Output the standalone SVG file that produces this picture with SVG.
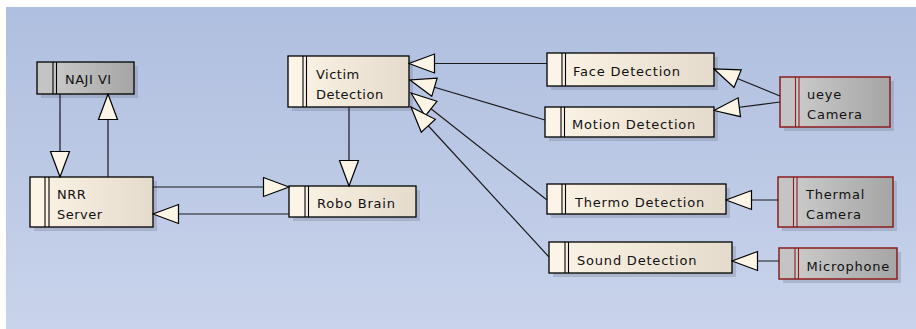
<svg xmlns="http://www.w3.org/2000/svg" width="916" height="329" viewBox="0 0 916 329">
<defs>
<linearGradient id="bg" x1="0" y1="0" x2="0" y2="1">
<stop offset="0" stop-color="#afbfdf"/>
<stop offset="1" stop-color="#c9d3eb"/>
</linearGradient>
<linearGradient id="gc" x1="0" y1="0" x2="1" y2="0">
<stop offset="0" stop-color="#fcf4e6"/>
<stop offset="1" stop-color="#e4dbcc"/>
</linearGradient>
<linearGradient id="gg" x1="0" y1="0" x2="1" y2="0">
<stop offset="0" stop-color="#d0d0d0"/>
<stop offset="1" stop-color="#a5a5a5"/>
</linearGradient>
<marker id="tri" viewBox="0 0 28 22" refX="27" refY="11" markerWidth="28" markerHeight="22" markerUnits="userSpaceOnUse" orient="auto">
<path d="M27,11 L1.5,1.5 L1.5,20.5 Z" fill="#fcf4e4" stroke="#000" stroke-width="1.2" stroke-linejoin="miter"/>
</marker>
</defs>
<style>
.sh{fill:#7c8599;opacity:.35}
.cr{fill:url(#gc)}
.gr{fill:url(#gg)}
.lcc{fill:#fcf4e6}
.lcg{fill:#c4c4c4}
.bd{fill:none;stroke:#000;stroke-width:1.3}
.rd{fill:none;stroke:#8c1c1c;stroke-width:1.5}
.dl{stroke:#000;stroke-width:1.1}
.dr{stroke:#8c1c1c;stroke-width:1.1}
text{font-family:"DejaVu Sans","Liberation Sans",sans-serif;font-size:13px;fill:#111;letter-spacing:0.8px}
.t{letter-spacing:0.5px}
.cn{fill:none;stroke:#1a1a1a;stroke-width:1.2;marker-end:url(#tri)}
</style>
<rect x="0" y="0" width="916" height="329" fill="#ffffff"/>
<rect x="6" y="7" width="910" height="322" fill="url(#bg)"/>

<g id="naji-vi">
<rect class="sh" x="41" y="66" width="97" height="32"/>
<rect class="gr" x="37" y="62" width="97" height="32"/>
<rect class="lcg" x="37" y="62" width="16" height="32"/>
<line class="dl" x1="53" y1="62" x2="53" y2="94"/>
<line class="dl" x1="56.5" y1="62" x2="56.5" y2="94"/>
<rect class="bd" x="37" y="62" width="97" height="32"/>
<text class="t" x="65" y="84">NAJI VI</text>
</g>

<g id="nrr-server">
<rect class="sh" x="34" y="181" width="123" height="50"/>
<rect class="cr" x="30" y="177" width="123" height="50"/>
<rect class="lcc" x="30" y="177" width="15" height="50"/>
<line class="dl" x1="45" y1="177" x2="45" y2="227"/>
<line class="dl" x1="49" y1="177" x2="49" y2="227"/>
<rect class="bd" x="30" y="177" width="123" height="50"/>
<text class="t" x="57" y="199">NRR</text>
<text class="t" x="57" y="218.5">Server</text>
</g>

<g id="victim-detection">
<rect class="sh" x="292" y="60" width="121" height="51"/>
<rect class="cr" x="288" y="56" width="121" height="51"/>
<rect class="lcc" x="288" y="56" width="15" height="51"/>
<line class="dl" x1="303" y1="56" x2="303" y2="107"/>
<line class="dl" x1="306.5" y1="56" x2="306.5" y2="107"/>
<rect class="bd" x="288" y="56" width="121" height="51"/>
<text class="t" x="316" y="79">Victim</text>
<text class="t" x="316" y="99">Detection</text>
</g>

<g id="robo-brain">
<rect class="sh" x="293" y="190" width="127" height="31"/>
<rect class="cr" x="289" y="186" width="127" height="31"/>
<rect class="lcc" x="289" y="186" width="16" height="31"/>
<line class="dl" x1="305" y1="186" x2="305" y2="217"/>
<line class="dl" x1="308.5" y1="186" x2="308.5" y2="217"/>
<rect class="bd" x="289" y="186" width="127" height="31"/>
<text x="317" y="208">Robo Brain</text>
</g>

<g id="face-detection">
<rect class="sh" x="551" y="57" width="167" height="33"/>
<rect class="cr" x="547" y="53" width="167" height="33"/>
<rect class="lcc" x="547" y="53" width="15" height="33"/>
<line class="dl" x1="562" y1="53" x2="562" y2="86"/>
<line class="dl" x1="565.5" y1="53" x2="565.5" y2="86"/>
<rect class="bd" x="547" y="53" width="167" height="33"/>
<text x="573" y="75.5">Face Detection</text>
</g>

<g id="motion-detection">
<rect class="sh" x="549" y="111" width="169" height="30"/>
<rect class="cr" x="545" y="107" width="169" height="30"/>
<rect class="lcc" x="545" y="107" width="16" height="30"/>
<line class="dl" x1="561" y1="107" x2="561" y2="137"/>
<line class="dl" x1="564.5" y1="107" x2="564.5" y2="137"/>
<rect class="bd" x="545" y="107" width="169" height="30"/>
<text x="572" y="129">Motion Detection</text>
</g>

<g id="ueye-camera">
<rect class="sh" x="784" y="81" width="110" height="50"/>
<rect class="gr" x="780" y="77" width="110" height="50"/>
<rect class="lcg" x="780" y="77" width="15.5" height="50"/>
<line class="dr" x1="795.5" y1="77" x2="795.5" y2="127"/>
<line class="dr" x1="799" y1="77" x2="799" y2="127"/>
<rect class="rd" x="780" y="77" width="110" height="50"/>
<text x="807" y="99">ueye</text>
<text x="807" y="119">Camera</text>
</g>

<g id="thermo-detection">
<rect class="sh" x="551" y="188" width="179" height="30"/>
<rect class="cr" x="547" y="184" width="179" height="30"/>
<rect class="lcc" x="547" y="184" width="15" height="30"/>
<line class="dl" x1="562" y1="184" x2="562" y2="214"/>
<line class="dl" x1="565.5" y1="184" x2="565.5" y2="214"/>
<rect class="bd" x="547" y="184" width="179" height="30"/>
<text x="575" y="206.5">Thermo Detection</text>
</g>

<g id="thermal-camera">
<rect class="sh" x="782" y="181" width="115" height="50"/>
<rect class="gr" x="778" y="177" width="115" height="50"/>
<rect class="lcg" x="778" y="177" width="15.5" height="50"/>
<line class="dr" x1="793.5" y1="177" x2="793.5" y2="227"/>
<line class="dr" x1="797" y1="177" x2="797" y2="227"/>
<rect class="rd" x="778" y="177" width="115" height="50"/>
<text x="806" y="199">Thermal</text>
<text x="806" y="219">Camera</text>
</g>

<g id="sound-detection">
<rect class="sh" x="553" y="246" width="183" height="31"/>
<rect class="cr" x="549" y="242" width="183" height="31"/>
<rect class="lcc" x="549" y="242" width="16" height="31"/>
<line class="dl" x1="565" y1="242" x2="565" y2="273"/>
<line class="dl" x1="568.5" y1="242" x2="568.5" y2="273"/>
<rect class="bd" x="549" y="242" width="183" height="31"/>
<text x="577" y="265">Sound Detection</text>
</g>

<g id="microphone">
<rect class="sh" x="783" y="252" width="118" height="31"/>
<rect class="gr" x="779" y="248" width="118" height="31"/>
<rect class="lcg" x="779" y="248" width="16" height="31"/>
<line class="dr" x1="795" y1="248" x2="795" y2="279"/>
<line class="dr" x1="798.5" y1="248" x2="798.5" y2="279"/>
<rect class="rd" x="779" y="248" width="118" height="31"/>
<text x="806.5" y="271">Microphone</text>
</g>

<g id="connectors">
<path class="cn" d="M60,94 L60,177"/>
<path class="cn" d="M108,177 L108,94"/>
<path class="cn" d="M153,187 L289,187"/>
<path class="cn" d="M289,214 L153,214"/>
<path class="cn" d="M349,107 L349,186"/>
<path class="cn" d="M547,63.5 L409,63.5"/>
<path class="cn" d="M545,120 L410,80"/>
<path class="cn" d="M547,200 L411,93"/>
<path class="cn" d="M549,257 L411,107"/>
<path class="cn" d="M780,96 L714,69"/>
<path class="cn" d="M780,102 L714,110.5"/>
<path class="cn" d="M778,200 L726,200"/>
<path class="cn" d="M779,261 L732,261"/>
</g>
</svg>
